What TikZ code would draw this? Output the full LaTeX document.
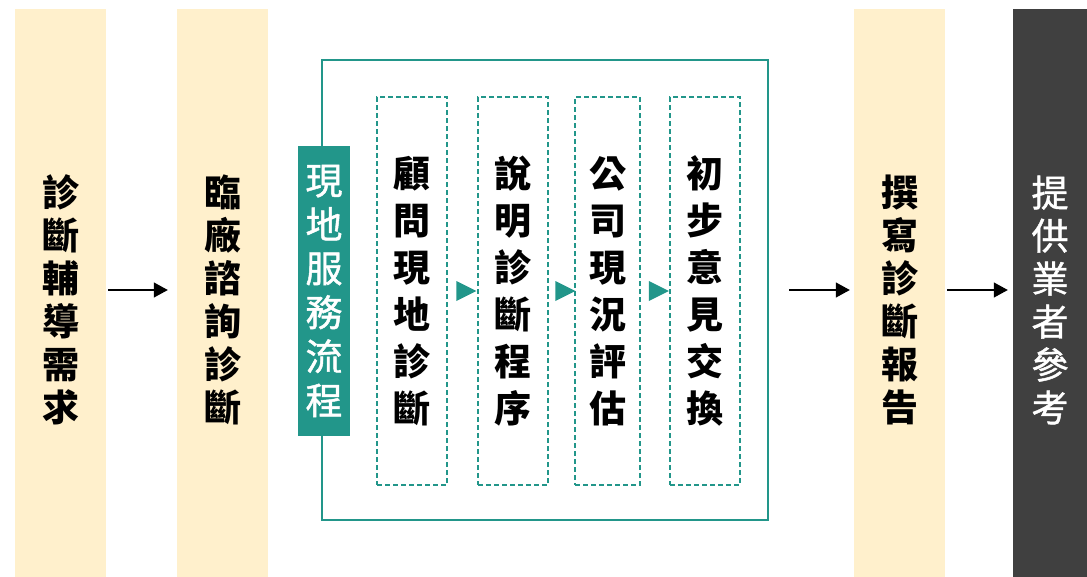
\documentclass[tikz,border=0pt]{standalone}
\usepackage{fontspec}
\usetikzlibrary{arrows.meta, shapes.geometric, calc}
\newfontfamily\cjk{Noto Sans CJK TC}
\newfontfamily\cjkmid[FakeBold=1.2]{Noto Sans CJK TC}
\definecolor{stagecream}{HTML}{FFF0CC}
\definecolor{svcteal}{HTML}{22968A}
\definecolor{refgrey}{HTML}{404040}

\begin{document}
\begin{tikzpicture}[x=1pt, y=-1pt]
    \tikzstyle{stage}=[fill=stagecream, minimum width=91pt, minimum height=582pt, inner sep=0pt, align=center, font=\cjk\bfseries\fontsize{37}{43}\selectfont];
    \tikzstyle{substep}=[draw=svcteal, line width=1.4pt, dash pattern=on 5pt off 3pt, minimum height=388pt, inner sep=0pt, align=center, font=\cjk\bfseries\fontsize{37}{47}\selectfont];
    \tikzstyle{marker}=[isosceles triangle, isosceles triangle stretches, fill=svcteal, minimum width=20pt, minimum height=20pt, inner sep=0pt];
    \tikzstyle{flow}=[-{Triangle[length=14pt,width=15pt]}, line width=1.2pt];

    \useasboundingbox (0,0) rectangle (1087,576);

    \node[stage](need) at (60.5,300) {診\\斷\\輔\\導\\需\\求};
    \node[stage](clinic) at (222.5,300) {臨\\廠\\諮\\詢\\診\\斷};
    \node[stage](report) at (899.5,300) {撰\\寫\\診\\斷\\報\\告};
    \node[fill=refgrey, text=white, minimum width=74pt, minimum height=582pt, inner sep=0pt, align=center,
          font=\cjkmid\fontsize{37}{43}\selectfont](ref) at (1050,300) {提\\供\\業\\者\\參\\考};

    \begin{scope}
        \node[draw=svcteal, line width=2.2pt, minimum width=446pt, minimum height=460pt](svc) at (545,290) {};
        \node[fill=svcteal, text=white, minimum width=52pt, minimum height=290pt, inner sep=0pt, align=center,
              font=\cjkmid\fontsize{37}{44}\selectfont](label) at (324,291) {現\\地\\服\\務\\流\\程};
        \node[substep, minimum width=70pt](b1) at (412,291) {顧\\問\\現\\地\\診\\斷};
        \node[substep, minimum width=70pt](b2) at (513,291) {說\\明\\診\\斷\\程\\序};
        \node[substep, minimum width=65pt](b3) at (607.5,291) {公\\司\\現\\況\\評\\估};
        \node[substep, minimum width=70pt](b4) at (705,291) {初\\步\\意\\見\\交\\換};
        \node[marker](t1) at ($(b1.east)!0.5!(b2.west)$) {};
        \node[marker](t2) at ($(b2.east)!0.5!(b3.west)$) {};
        \node[marker](t3) at ($(b3.east)!0.5!(b4.west)$) {};
    \end{scope}

    \draw[flow, shorten <=2pt, shorten >=9pt] (need.east |- svc.center) -- (clinic.west |- svc.center);
    \draw[flow, shorten <=20pt, shorten >=4pt] (svc.east) -- (report.west |- svc.center);
    \draw[flow, shorten <=2pt, shorten >=5pt] (report.east |- svc.center) -- (ref.west |- svc.center);
\end{tikzpicture}
\end{document}
